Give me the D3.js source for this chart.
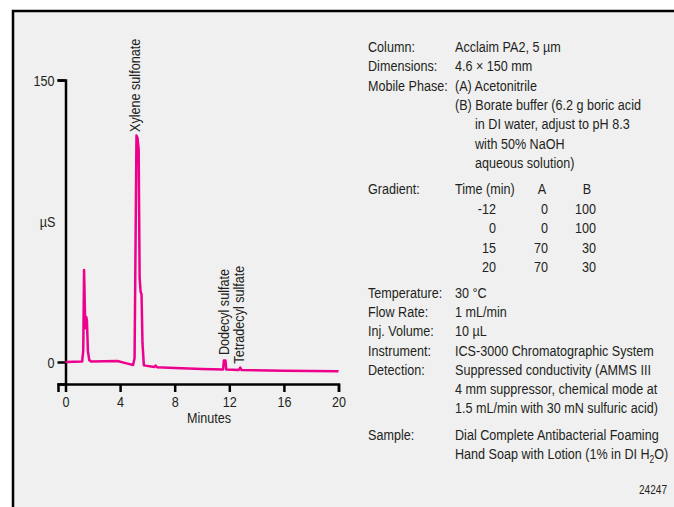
<!DOCTYPE html>
<html>
<head>
<meta charset="utf-8">
<script src="https://cdn.jsdelivr.net/npm/d3@7"></script>
<style>
  html, body { margin: 0; padding: 0; background: #fff; }
  svg { display: block; }
  text { font-family: "Liberation Sans", Arial, sans-serif; fill: #231f20; }
</style>
</head>
<body>
<svg id="chart" width="674" height="507"></svg>
<script>
// chromatogram trace (minutes, µS)
const times  = [0, 1.22, 1.3, 1.36, 1.45, 1.52, 1.57, 1.64, 1.74, 1.9, 3.8, 4.4, 4.95, 5.06, 5.14, 5.2, 5.28, 5.36, 5.43, 5.5, 5.57, 5.64, 5.74, 6.5, 6.6, 6.7, 8, 10, 11.55, 11.6, 11.72, 11.78, 12.7, 12.8, 12.9, 16, 20];
const signal = [0, 0.2, 6, 49, 18, 24, 22, 6, 1, 0.2, 0.5, -0.6, -1.6, 2, 70, 120.5, 119, 113, 45, 37.5, 36, 10, -1.8, -2.6, -1.9, -2.8, -3.2, -3.7, -4, 0.8, 0.8, -4, -4.2, -3, -4.3, -4.6, -4.9];

const xTicks = [0, 4, 8, 12, 16, 20];
const yTicks = [0, 150];

const peakNames = ['Xylene sulfonate', 'Dodecyl sulfate', 'Tetradecyl sulfate'];
const peakTimes = [5.2, 11.65, 12.8];
const peakTops  = [120.5, 1, -3];

// method notes
const condLabels = ['Column:', 'Dimensions:', 'Mobile Phase:'];
const condValues = ['Acclaim PA2, 5 µm', '4.6 × 150 mm', '(A) Acetonitrile'];
const phaseB = ['(B) Borate buffer (6.2 g boric acid', 'in DI water, adjust to pH 8.3', 'with 50% NaOH', 'aqueous solution)'];

const gradHeader = ['Time (min)', 'A', 'B'];
const gradTime = ['-12', '0', '15', '20'];
const gradA = ['0', '0', '70', '70'];
const gradB = ['100', '100', '30', '30'];

const runLabels = ['Temperature:', 'Flow Rate:', 'Inj. Volume:', 'Instrument:', 'Detection:', '', ''];
const runValues = ['30 °C', '1 mL/min', '10 µL', 'ICS-3000 Chromatographic System', 'Suppressed conductivity (AMMS III', '4 mm suppressor, chemical mode at', '1.5 mL/min with 30 mN sulfuric acid)'];

const figureId = '24247';

const svg = d3.select('#chart');
const pink = '#ec008c';
const sx = 0.84; // condensed look

function label(x, y, str, anchor, rot) {
  return svg.append('text')
    .attr('transform', `translate(${x},${y})${rot ? ' rotate(-90)' : ''} scale(${sx},1)`)
    .attr('text-anchor', anchor || 'start')
    .attr('font-size', 15)
    .text(str);
}

// frame
svg.append('rect')
  .attr('x', 13).attr('y', 11)
  .attr('width', 700).attr('height', 520)
  .attr('fill', '#f0f0f0')
  .attr('stroke', '#000')
  .attr('stroke-width', 2.5);

let x = d3.scaleLinear().domain([0, 20]).range([65.5, 338.5]);
let y = d3.scaleLinear().domain([0, 150]).range([362, 80]);
const xAxisY = 384;

// axes (domains pushed out so the lines run past the origin)
let xAxisScale = x.copy().domain([x.invert(58), 20]).range([58, 338.5]);
let yAxisScale = y.copy().domain([y.invert(xAxisY), 150]).range([xAxisY, 80]);

let xAxis = svg.append('g')
  .attr('transform', `translate(0,${xAxisY})`)
  .call(d3.axisBottom(xAxisScale).tickValues(xTicks).tickSizeOuter(0).tickSize(8).tickPadding(4));

let yAxis = svg.append('g')
  .attr('transform', 'translate(65.5,0)')
  .call(d3.axisLeft(yAxisScale).tickValues(yTicks).tickSizeOuter(0).tickSize(8).tickPadding(3));

[xAxis, yAxis].forEach(g => {
  g.select('.domain').attr('stroke', '#000').attr('stroke-width', 2.5);
  g.selectAll('.tick line').attr('stroke', '#000').attr('stroke-width', 2.5);
  g.selectAll('.tick text').attr('font-size', 15).attr('fill', '#231f20')
    .attr('font-family', '"Liberation Sans", Arial, sans-serif')
    .attr('transform', `scale(${sx},1)`);
});
yAxis.selectAll('.tick text').attr('dy', '0.36em').attr('x', -11 / sx);

label(x(10) + 7, 423, 'Minutes', 'middle');
label(47.5, 227, 'µS', 'middle');

// trace
let line = d3.line()
  .x((d, i) => x(times[i]))
  .y(d => y(d));

svg.append('path')
  .attr('d', line(signal))
  .attr('fill', 'none')
  .attr('stroke', pink)
  .attr('stroke-width', 2.5)
  .attr('stroke-linejoin', 'round');

// peak labels
const labelGap = [3.5, 5, 4];
peakNames.forEach((name, i) => {
  label(x(peakTimes[i]) + 4, y(peakTops[i]) - labelGap[i], name, 'start', true);
});

// notes panel
const labX = 368, valX = 455, indentX = 475, lh = 19.3;

condLabels.forEach((d, i) => {
  label(labX, 52 + i * lh, d);
  label(valX, 52 + i * lh, condValues[i]);
});
phaseB.forEach((d, i) => {
  label(i === 0 ? valX : indentX, 52 + (3 + i) * lh, d);
});

label(labX, 194, 'Gradient:');
label(valX, 194, gradHeader[0]);
label(542, 194, gradHeader[1], 'middle');
label(587, 194, gradHeader[2], 'middle');
gradTime.forEach((d, i) => {
  let ty = 213.5 + i * 19.5;
  label(496, ty, d, 'end');
  label(548, ty, gradA[i], 'end');
  label(596, ty, gradB[i], 'end');
});

runLabels.forEach((d, i) => {
  let ty = 298 + i * 19.2;
  if (d) label(labX, ty, d);
  label(valX, ty, runValues[i]);
});

label(labX, 440, 'Sample:');
label(valX, 440, 'Dial Complete Antibacterial Foaming');
let soap = label(valX, 459, '');
soap.append('tspan').text('Hand Soap with Lotion (1% in DI H');
soap.append('tspan').attr('font-size', 10).attr('dy', 4).text('2');
soap.append('tspan').attr('dy', -4).text('O)');

label(667, 494, figureId, 'end').attr('font-size', 12);
</script>
</body>
</html>
